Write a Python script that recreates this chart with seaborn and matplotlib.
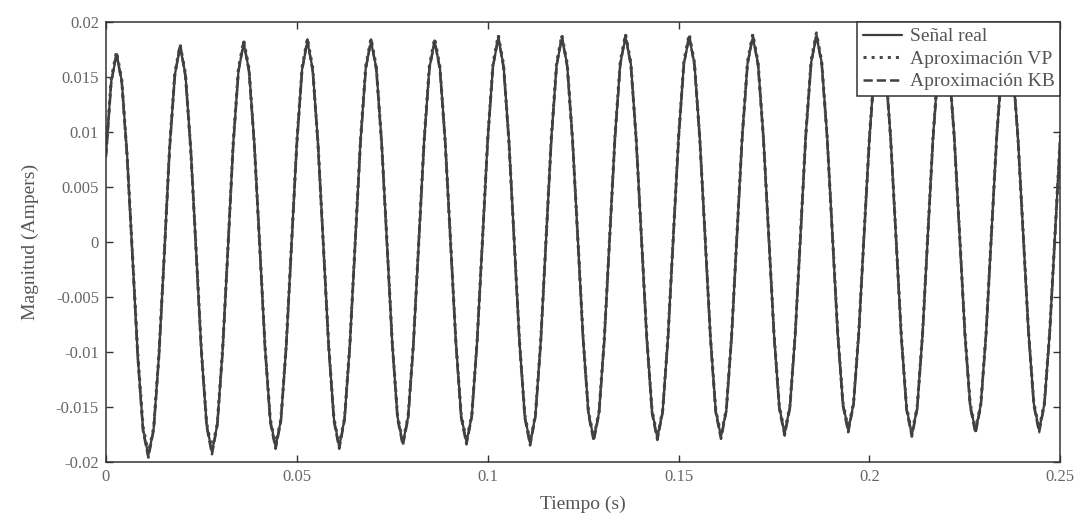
import numpy as np
import pandas as pd
import matplotlib
matplotlib.use("Agg")
import matplotlib.pyplot as plt
import seaborn as sns

# Time samples (s): 12 samples per 60 Hz cycle over 0.25 s
t_start, t_end, n_samples = 0.0, 0.25, 181

real_mA = [
    7.9, 14.6, 17.0, 14.6, 7.9, -1.2, -10.3, -17.0, -19.4, -17.0, -10.3, -1.2,
    8.5, 15.2, 17.7, 15.2, 8.5, -0.7, -9.9, -16.6, -19.1, -16.6, -9.9, -0.7,
    8.9, 15.6, 18.0, 15.6, 8.9, -0.3, -9.5, -16.2, -18.6, -16.2, -9.5, -0.3,
    9.0, 15.7, 18.2, 15.7, 9.0, -0.2, -9.4, -16.1, -18.6, -16.1, -9.4, -0.2,
    9.1, 15.8, 18.2, 15.8, 9.1, 0.0, -9.2, -15.9, -18.3, -15.9, -9.2, 0.0,
    9.1, 15.8, 18.2, 15.8, 9.1, 0.0, -9.1, -15.8, -18.2, -15.8, -9.1, 0.0,
    9.3, 16.0, 18.5, 16.0, 9.3, 0.1, -9.1, -15.8, -18.3, -15.8, -9.1, 0.1,
    9.4, 16.1, 18.5, 16.1, 9.4, 0.3, -8.8, -15.5, -17.9, -15.5, -8.8, 0.3,
    9.5, 16.2, 18.6, 16.2, 9.5, 0.4, -8.7, -15.4, -17.8, -15.4, -8.7, 0.4,
    9.5, 16.2, 18.6, 16.2, 9.5, 0.5, -8.6, -15.3, -17.7, -15.3, -8.6, 0.5,
    9.6, 16.2, 18.6, 16.2, 9.6, 0.6, -8.4, -15.0, -17.4, -15.0, -8.4, 0.6,
    9.8, 16.3, 18.7, 16.3, 9.8, 0.8, -8.2, -14.7, -17.1, -14.7, -8.2, 0.8,
    9.5, 16.1, 18.5, 16.1, 9.5, 0.5, -8.5, -15.1, -17.5, -15.1, -8.5, 0.5,
    9.6, 16.1, 18.5, 16.1, 9.6, 0.7, -8.3, -14.8, -17.2, -14.8, -8.3, 0.7,
    9.6, 16.1, 18.5, 16.1, 9.6, 0.7, -8.2, -14.7, -17.1, -14.7, -8.2, 0.7,
    9.6,
]

vp_mA = [
    8.1, 14.8, 17.3, 14.7, 7.8, -1.0, -10.1, -16.8, -19.2, -16.9, -10.2, -1.1,
    8.6, 15.4, 17.9, 15.3, 8.4, -0.6, -9.8, -16.5, -18.9, -16.5, -9.8, -0.6,
    9.0, 15.8, 18.3, 15.7, 8.8, -0.2, -9.4, -16.1, -18.5, -16.1, -9.4, -0.2,
    9.1, 15.9, 18.5, 15.8, 8.9, -0.1, -9.3, -16.0, -18.5, -16.0, -9.3, -0.1,
    9.2, 16.0, 18.5, 15.9, 9.0, 0.1, -9.1, -15.8, -18.2, -15.8, -9.1, 0.1,
    9.2, 16.0, 18.5, 15.9, 9.0, 0.1, -9.0, -15.7, -18.1, -15.7, -9.0, 0.1,
    9.4, 16.2, 18.8, 16.1, 9.2, 0.2, -9.0, -15.7, -18.2, -15.7, -9.0, 0.2,
    9.5, 16.3, 18.8, 16.2, 9.3, 0.4, -8.7, -15.4, -17.8, -15.4, -8.7, 0.4,
    9.6, 16.4, 18.9, 16.3, 9.4, 0.5, -8.6, -15.3, -17.7, -15.3, -8.6, 0.5,
    9.6, 16.4, 18.9, 16.3, 9.4, 0.6, -8.5, -15.2, -17.6, -15.2, -8.5, 0.6,
    9.7, 16.4, 18.9, 16.3, 9.5, 0.7, -8.3, -14.9, -17.3, -14.9, -8.3, 0.7,
    9.9, 16.5, 19.0, 16.4, 9.7, 0.9, -8.1, -14.6, -17.0, -14.6, -8.1, 0.9,
    9.6, 16.3, 18.8, 16.2, 9.4, 0.6, -8.4, -15.0, -17.4, -15.0, -8.4, 0.6,
    9.7, 16.3, 18.8, 16.2, 9.5, 0.8, -8.2, -14.7, -17.1, -14.7, -8.2, 0.8,
    9.7, 16.3, 18.8, 16.2, 9.5, 0.8, -8.1, -14.6, -17.0, -14.6, -8.1, 0.8,
    9.7,
]

kb_mA = [
    7.7, 14.5, 17.2, 14.4, 7.7, -1.3, -10.5, -17.2, -19.6, -17.1, -10.4, -1.3,
    8.3, 15.1, 18.0, 15.0, 8.3, -0.8, -10.0, -16.8, -19.3, -16.7, -10.0, -0.8,
    8.7, 15.5, 18.2, 15.4, 8.7, -0.4, -9.6, -16.4, -18.8, -16.3, -9.6, -0.4,
    8.8, 15.6, 18.4, 15.5, 8.8, -0.3, -9.5, -16.3, -18.8, -16.2, -9.5, -0.3,
    8.9, 15.7, 18.4, 15.6, 8.9, -0.1, -9.3, -16.1, -18.5, -16.0, -9.3, -0.1,
    8.9, 15.7, 18.3, 15.6, 8.9, -0.1, -9.2, -16.0, -18.4, -15.9, -9.2, -0.1,
    9.1, 15.9, 18.7, 15.8, 9.1, 0.0, -9.2, -16.0, -18.5, -15.9, -9.2, 0.0,
    9.2, 16.0, 18.7, 15.9, 9.2, 0.2, -8.9, -15.7, -18.1, -15.6, -8.9, 0.2,
    9.3, 16.1, 18.8, 16.0, 9.3, 0.3, -8.8, -15.6, -18.0, -15.5, -8.8, 0.3,
    9.3, 16.1, 18.8, 16.0, 9.3, 0.4, -8.7, -15.5, -17.9, -15.4, -8.7, 0.4,
    9.4, 16.1, 18.8, 16.0, 9.4, 0.5, -8.5, -15.2, -17.6, -15.1, -8.5, 0.5,
    9.6, 16.2, 18.9, 16.1, 9.6, 0.7, -8.3, -14.9, -17.3, -14.8, -8.3, 0.7,
    9.3, 16.0, 18.7, 15.9, 9.3, 0.4, -8.6, -15.3, -17.7, -15.2, -8.6, 0.4,
    9.4, 16.0, 18.7, 15.9, 9.4, 0.6, -8.4, -15.0, -17.4, -14.9, -8.4, 0.6,
    9.4, 16.0, 18.7, 15.9, 9.4, 0.6, -8.3, -14.9, -17.3, -14.8, -8.3, 0.6,
    9.4,
]

labels = ["Señal real", "Aproximación VP", "Aproximación KB"]
x_ticks = [0, 0.05, 0.1, 0.15, 0.2, 0.25]
x_ticklabels = ["0", "0.05", "0.1", "0.15", "0.2", "0.25"]
y_ticks = [-0.02, -0.015, -0.01, -0.005, 0, 0.005, 0.01, 0.015, 0.02]
y_ticklabels = ["-0.02", "-0.015", "-0.01", "-0.005", "0", "0.005", "0.01", "0.015", "0.02"]

time = np.linspace(t_start, t_end, n_samples)
df = pd.DataFrame({
    "t": np.tile(time, 3),
    "y": np.concatenate([np.array(real_mA), np.array(vp_mA), np.array(kb_mA)]) / 1000.0,
    "serie": np.repeat(labels, n_samples),
})

sns.set_theme(style="white")
plt.rcParams["font.family"] = ["Liberation Serif", "DejaVu Serif"]
plt.rcParams["xtick.direction"] = "in"
plt.rcParams["ytick.direction"] = "in"

fig = plt.figure(figsize=(10.92, 5.22), dpi=100)
ax = fig.add_axes([0.097, 0.115, 0.874, 0.843])

styles = {
    "Señal real": dict(color="#3c3c3c", linestyle="-", linewidth=1.6),
    "Aproximación VP": dict(color="#4a4a4a", linestyle=":", linewidth=2.2),
    "Aproximación KB": dict(color="#404040", linestyle="--", linewidth=1.8),
}
for lab in labels:
    sub = df[df["serie"] == lab]
    sns.lineplot(data=sub, x="t", y="y", ax=ax, label=lab, **styles[lab])

ax.set_xlim(0, 0.25)
ax.set_ylim(-0.02, 0.02)
ax.set_xticks(x_ticks)
ax.set_xticklabels(x_ticklabels)
ax.set_yticks(y_ticks)
ax.set_yticklabels(y_ticklabels)
ax.tick_params(axis="both", which="both", direction="in", top=True, right=True,
               length=5, width=1, color="#333333", labelsize=12, labelcolor="#666666",
               bottom=True, left=True, pad=5)
for sp in ax.spines.values():
    sp.set_color("#333333")
    sp.set_linewidth(1.1)

ax.set_xlabel("Tiempo (s)", fontsize=14, color="#555555", labelpad=8)
ax.set_ylabel("Magnitud (Ampers)", fontsize=14, color="#555555", labelpad=12)

leg = ax.legend(loc="upper right", borderaxespad=0.0, fontsize=14, frameon=True,
                fancybox=False, framealpha=1.0, edgecolor="#333333",
                handlelength=2.0, handletextpad=0.4, labelspacing=0.25,
                borderpad=0.3)
leg.get_frame().set_linewidth(1.1)
for txt in leg.get_texts():
    txt.set_color("#555555")

fig.savefig("out.png", dpi=100, facecolor="white")
